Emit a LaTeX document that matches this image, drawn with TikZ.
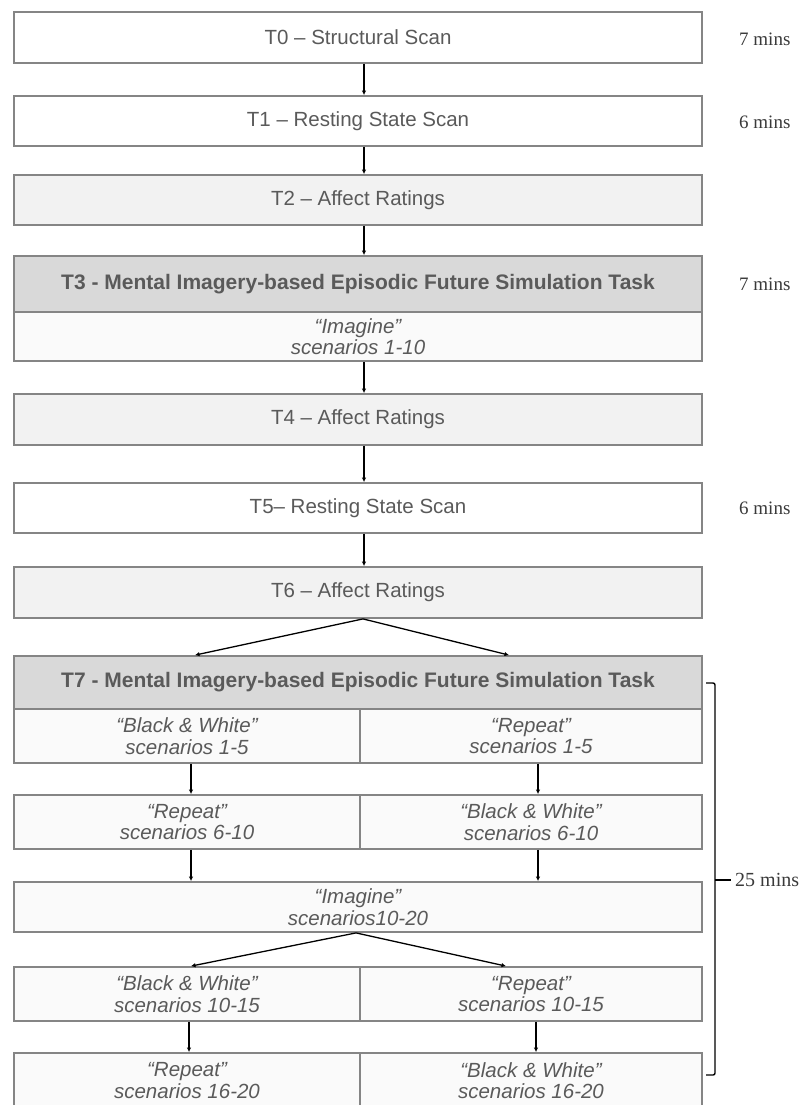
\documentclass[tikz,border=0pt]{standalone}
\usepackage{fontspec}
\setmainfont{Liberation Sans}
\newfontfamily\timesfont{Liberation Serif}
\usetikzlibrary{arrows.meta}
\definecolor{boxline}{HTML}{858585}
\definecolor{txtgray}{HTML}{5A5A5A}
\definecolor{hdrfill}{HTML}{D9D9D9}
\definecolor{lightfill}{HTML}{F2F2F2}
\definecolor{subfill}{HTML}{FAFAFA}
\definecolor{timegray}{HTML}{3A3A3A}
\tikzset{
  stagebox/.style={draw=boxline, line width=1.8pt, text=txtgray, inner sep=0pt,
    font=\fontsize{20.5}{22}\selectfont, align=center, minimum width=688pt},
  whitebox/.style={stagebox, fill=white},
  ratebox/.style={stagebox, fill=lightfill},
  hdrbox/.style={stagebox, fill=hdrfill, font=\fontsize{21}{23}\selectfont\bfseries},
  subbox/.style={stagebox, fill=subfill, font=\fontsize{20.5}{21.5}\selectfont\itshape},
  leftcell/.style={subbox, minimum width=346pt, minimum height=54pt},
  rightcell/.style={subbox, minimum width=342pt, minimum height=54pt},
  flow/.style={line width=1.3pt, draw=black, -{Latex[length=4.5pt,width=4.5pt]}},
  timelabel/.style={anchor=west, inner sep=0pt, text=timegray, font=\timesfont\fontsize{19}{22}\selectfont},
  bracketline/.style={line width=1.4pt, draw=black, rounded corners=2pt}
}
\begin{document}
\begin{tikzpicture}[x=1pt,y=-1pt]
\useasboundingbox (0,0) rectangle (805,1105);
% stages
\node[whitebox, minimum height=51pt] (t0) at (358,37.5) {T0 -- Structural Scan};
\node[whitebox, minimum height=50pt] (t1) at (358,121) {T1 -- Resting State Scan};
\node[ratebox, minimum height=50pt] (t2) at (358,200) {T2 -- Affect Ratings};
\node[hdrbox, minimum height=56pt] (t3h) at (358,284) {T3 - Mental Imagery-based Episodic Future Simulation Task};
\node[subbox, minimum height=49pt] (t3s) at (358,336.5) {“Imagine”\\scenarios 1-10};
\node[ratebox, minimum height=51pt] (t4) at (358,419.5) {T4 -- Affect Ratings};
\node[whitebox, minimum height=50pt] (t5) at (358,508) {T5-- Resting State Scan};
\node[ratebox, minimum height=51pt] (t6) at (358,592.5) {T6 -- Affect Ratings};
\node[hdrbox, minimum height=53pt] (t7h) at (358,682.5) {T7 - Mental Imagery-based Episodic Future Simulation Task};
\node[leftcell] (r1l) at (187,736) {“Black \& White”\\scenarios 1-5};
\node[rightcell] (r1r) at (531,736) {“Repeat”\\scenarios 1-5};
\node[leftcell] (r2l) at (187,822) {“Repeat”\\scenarios 6-10};
\node[rightcell] (r2r) at (531,822) {“Black \& White”\\scenarios 6-10};
\node[subbox, minimum height=50pt] (im) at (358,907) {“Imagine”\\scenarios10-20};
\node[leftcell] (r3l) at (187,994) {“Black \& White”\\scenarios 10-15};
\node[rightcell] (r3r) at (531,994) {“Repeat”\\scenarios 10-15};
\node[leftcell, minimum height=55pt] (r4l) at (187,1080.5) {“Repeat”\\scenarios 16-20};
\node[rightcell, minimum height=55pt] (r4r) at (531,1080.5) {“Black \& White”\\scenarios 16-20};
% time labels
\node[timelabel] (m0) at (739,39) {7 mins};
\node[timelabel] (m1) at (739,122) {6 mins};
\node[timelabel] (m3) at (739,284) {7 mins};
\node[timelabel] (m5) at (739,508) {6 mins};
% connectors
\draw[flow] ([xshift=6pt]t0.south) -- ([xshift=6pt]t1.north);
\draw[flow] ([xshift=6pt]t1.south) -- ([xshift=6pt]t2.north);
\draw[flow] ([xshift=6pt]t2.south) -- ([xshift=6pt]t3h.north);
\draw[flow] ([xshift=6pt]t3s.south) -- ([xshift=6pt]t4.north);
\draw[flow] ([xshift=6pt]t4.south) -- ([xshift=6pt]t5.north);
\draw[flow] ([xshift=6pt]t5.south) -- ([xshift=6pt]t6.north);
\draw[flow] ([xshift=5pt]t6.south) -- ([xshift=-163pt]t7h.north);
\draw[flow] ([xshift=5pt]t6.south) -- ([xshift=151pt]t7h.north);
\draw[flow] ([xshift=4pt]r1l.south) -- ([xshift=4pt]r2l.north);
\draw[flow] ([xshift=7pt]r1r.south) -- ([xshift=7pt]r2r.north);
\draw[flow] ([xshift=4pt]r2l.south) -- ([xshift=4pt]r2l.south |- im.north);
\draw[flow] ([xshift=7pt]r2r.south) -- ([xshift=7pt]r2r.south |- im.north);
\draw[flow] ([xshift=-2pt]im.south) -- ([xshift=4pt]r3l.north);
\draw[flow] ([xshift=-2pt]im.south) -- ([xshift=-25pt]r3r.north);
\draw[flow] ([xshift=2pt]r3l.south) -- ([xshift=2pt]r4l.north);
\draw[flow] ([xshift=5pt]r3r.south) -- ([xshift=5pt]r4r.north);
% bracket
\coordinate (btop) at (706,683);
\coordinate (bbot) at (706,1075);
\node[timelabel, font=\timesfont\fontsize{20}{22}\selectfont] (m7) at (735,880) {25 mins};
\draw[bracketline] (btop) -- ++(9,0) -- ++(0,392) -- (bbot);
\draw[line width=1.4pt] (715,880) -- ([xshift=-4pt]m7.west);
\end{tikzpicture}
\end{document}
